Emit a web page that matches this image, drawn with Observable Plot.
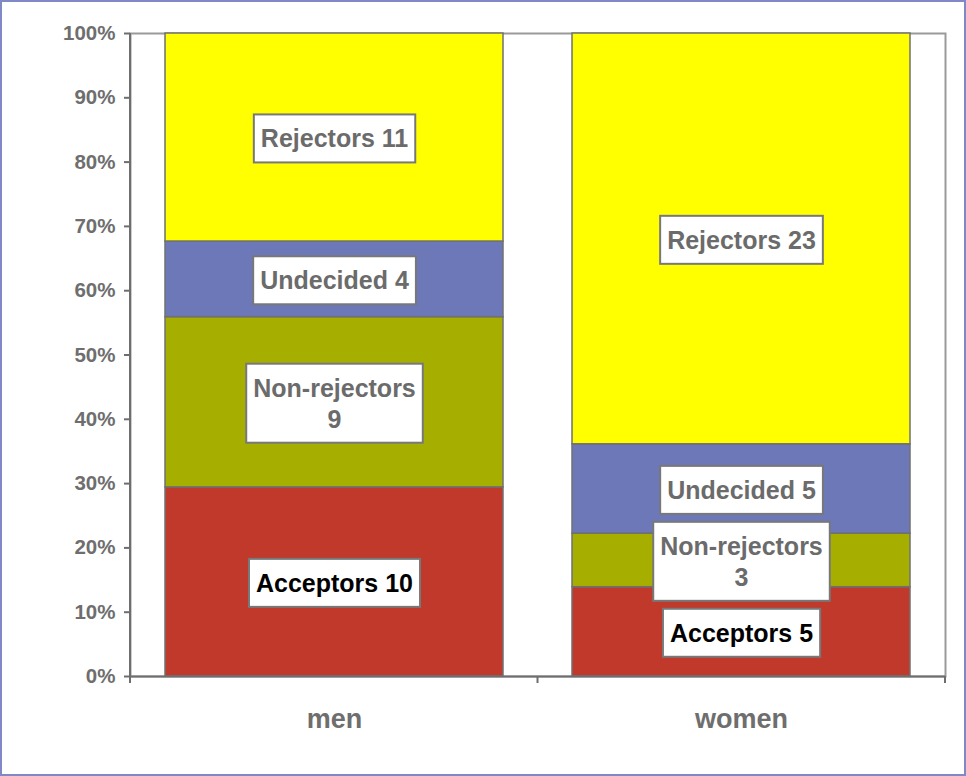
<!DOCTYPE html>
<html><head><meta charset="utf-8">
<script src="https://cdn.jsdelivr.net/npm/d3@7"></script>
<script src="https://cdn.jsdelivr.net/npm/@observablehq/plot@0.6"></script>
<style>
body{margin:0;background:#fff;}
#wrap{position:relative;width:966px;height:776px;}
#border{position:absolute;left:0;top:0;width:966px;height:776px;box-sizing:border-box;border:2px solid #8088c8;pointer-events:none;}
</style></head><body>
<div id="wrap"><div id="chart"></div><div id="border"></div></div>
<script>
const groups = ["men", "women"];
const segments = ["Acceptors", "Non-rejectors", "Undecided", "Rejectors"];
const menCounts = [10, 9, 4, 11];
const womenCounts = [5, 3, 5, 23];
const segmentColors = ["#c0392b", "#a6ae00", "#6c78b8", "#ffff00"];
const yTicks = [0, 0.1, 0.2, 0.3, 0.4, 0.5, 0.6, 0.7, 0.8, 0.9, 1];

const data = [];
groups.forEach((g, gi) => {
  const counts = gi === 0 ? menCounts : womenCounts;
  segments.forEach((s, si) => data.push({group: g, segment: s, count: counts[si]}));
});
const label = d => d.segment === "Non-rejectors" ? `Non-rejectors\n${d.count}` : `${d.segment} ${d.count}`;
const gray = "#6e6e6e";
const font = "'Liberation Sans', Arial, sans-serif";

const plot = Plot.plot({
  width: 966, height: 776,
  marginLeft: 130, marginRight: 21, marginTop: 33, marginBottom: 100,
  style: {fontFamily: font, fontWeight: "bold", background: "white", overflow: "visible"},
  x: {domain: groups, paddingInner: 0.17, paddingOuter: 0.085, label: null},
  y: {domain: [0, 1], label: null},
  color: {domain: segments, range: segmentColors},
  marks: [
    Plot.frame({stroke: "#9a9a9a", strokeWidth: 2}),
    Plot.barY(data, Plot.stackY({offset: "normalize", x: "group", y: "count", fill: "segment", stroke: "#707070", strokeWidth: 1.5})),
    Plot.ruleY([0], {stroke: gray, strokeWidth: 2}),
    Plot.text(data, Plot.stackY({offset: "normalize", x: "group", y: "count", text: d => d.segment !== "Acceptors" ? label(d) : null, fill: "#6b6b6b", fontSize: 25, lineHeight: 1.24, fontWeight: "bold"})),
    Plot.text(data, Plot.stackY({offset: "normalize", x: "group", y: "count", text: d => d.segment === "Acceptors" ? label(d) : null, fill: "#000", fontSize: 25, lineHeight: 1.24, fontWeight: "bold"})),
    Plot.axisY({ticks: yTicks, tickFormat: d3.format(".0%"), tickSize: 6, tickPadding: 9, fontSize: 20.5, color: gray, stroke: gray, strokeWidth: 2, label: null}),
    Plot.axisX({tickSize: 0, tickPadding: 32, fontSize: 27, color: gray, label: null})
  ]
});
document.getElementById("chart").append(plot);

// white label boxes behind segment labels
const ns = "http://www.w3.org/2000/svg";
plot.querySelectorAll('g[aria-label="text"] text').forEach(t => {
  const b = t.getBBox();
  if (!b.width) return;
  const r = document.createElementNS(ns, "rect");
  r.setAttribute("x", b.x - 7);
  r.setAttribute("y", b.y - 10);
  r.setAttribute("width", b.width + 14);
  r.setAttribute("height", b.height + 20);
  r.setAttribute("fill", "white");
  r.setAttribute("stroke", "#787878");
  r.setAttribute("stroke-width", 2);
  if (t.getAttribute("transform")) r.setAttribute("transform", t.getAttribute("transform"));
  t.parentNode.insertBefore(r, t);
});

// Excel-style axis line and boundary ticks, from Plot's scales
const xs = plot.scale("x"), ys = plot.scale("y");
const y0 = ys.apply(0), y1 = ys.apply(1);
const x0 = xs.range[0], xw = (xs.range[1] - xs.range[0]) / groups.length;
const g = d3.select(plot).append("g").attr("stroke", gray).attr("stroke-width", 2);
g.append("line").attr("x1", x0).attr("x2", x0).attr("y1", y1).attr("y2", y0 + 7);
for (let i = 0; i <= groups.length; i++) {
  g.append("line").attr("x1", x0 + i * xw).attr("x2", x0 + i * xw).attr("y1", y0).attr("y2", y0 + 7);
}
</script>
</body></html>
